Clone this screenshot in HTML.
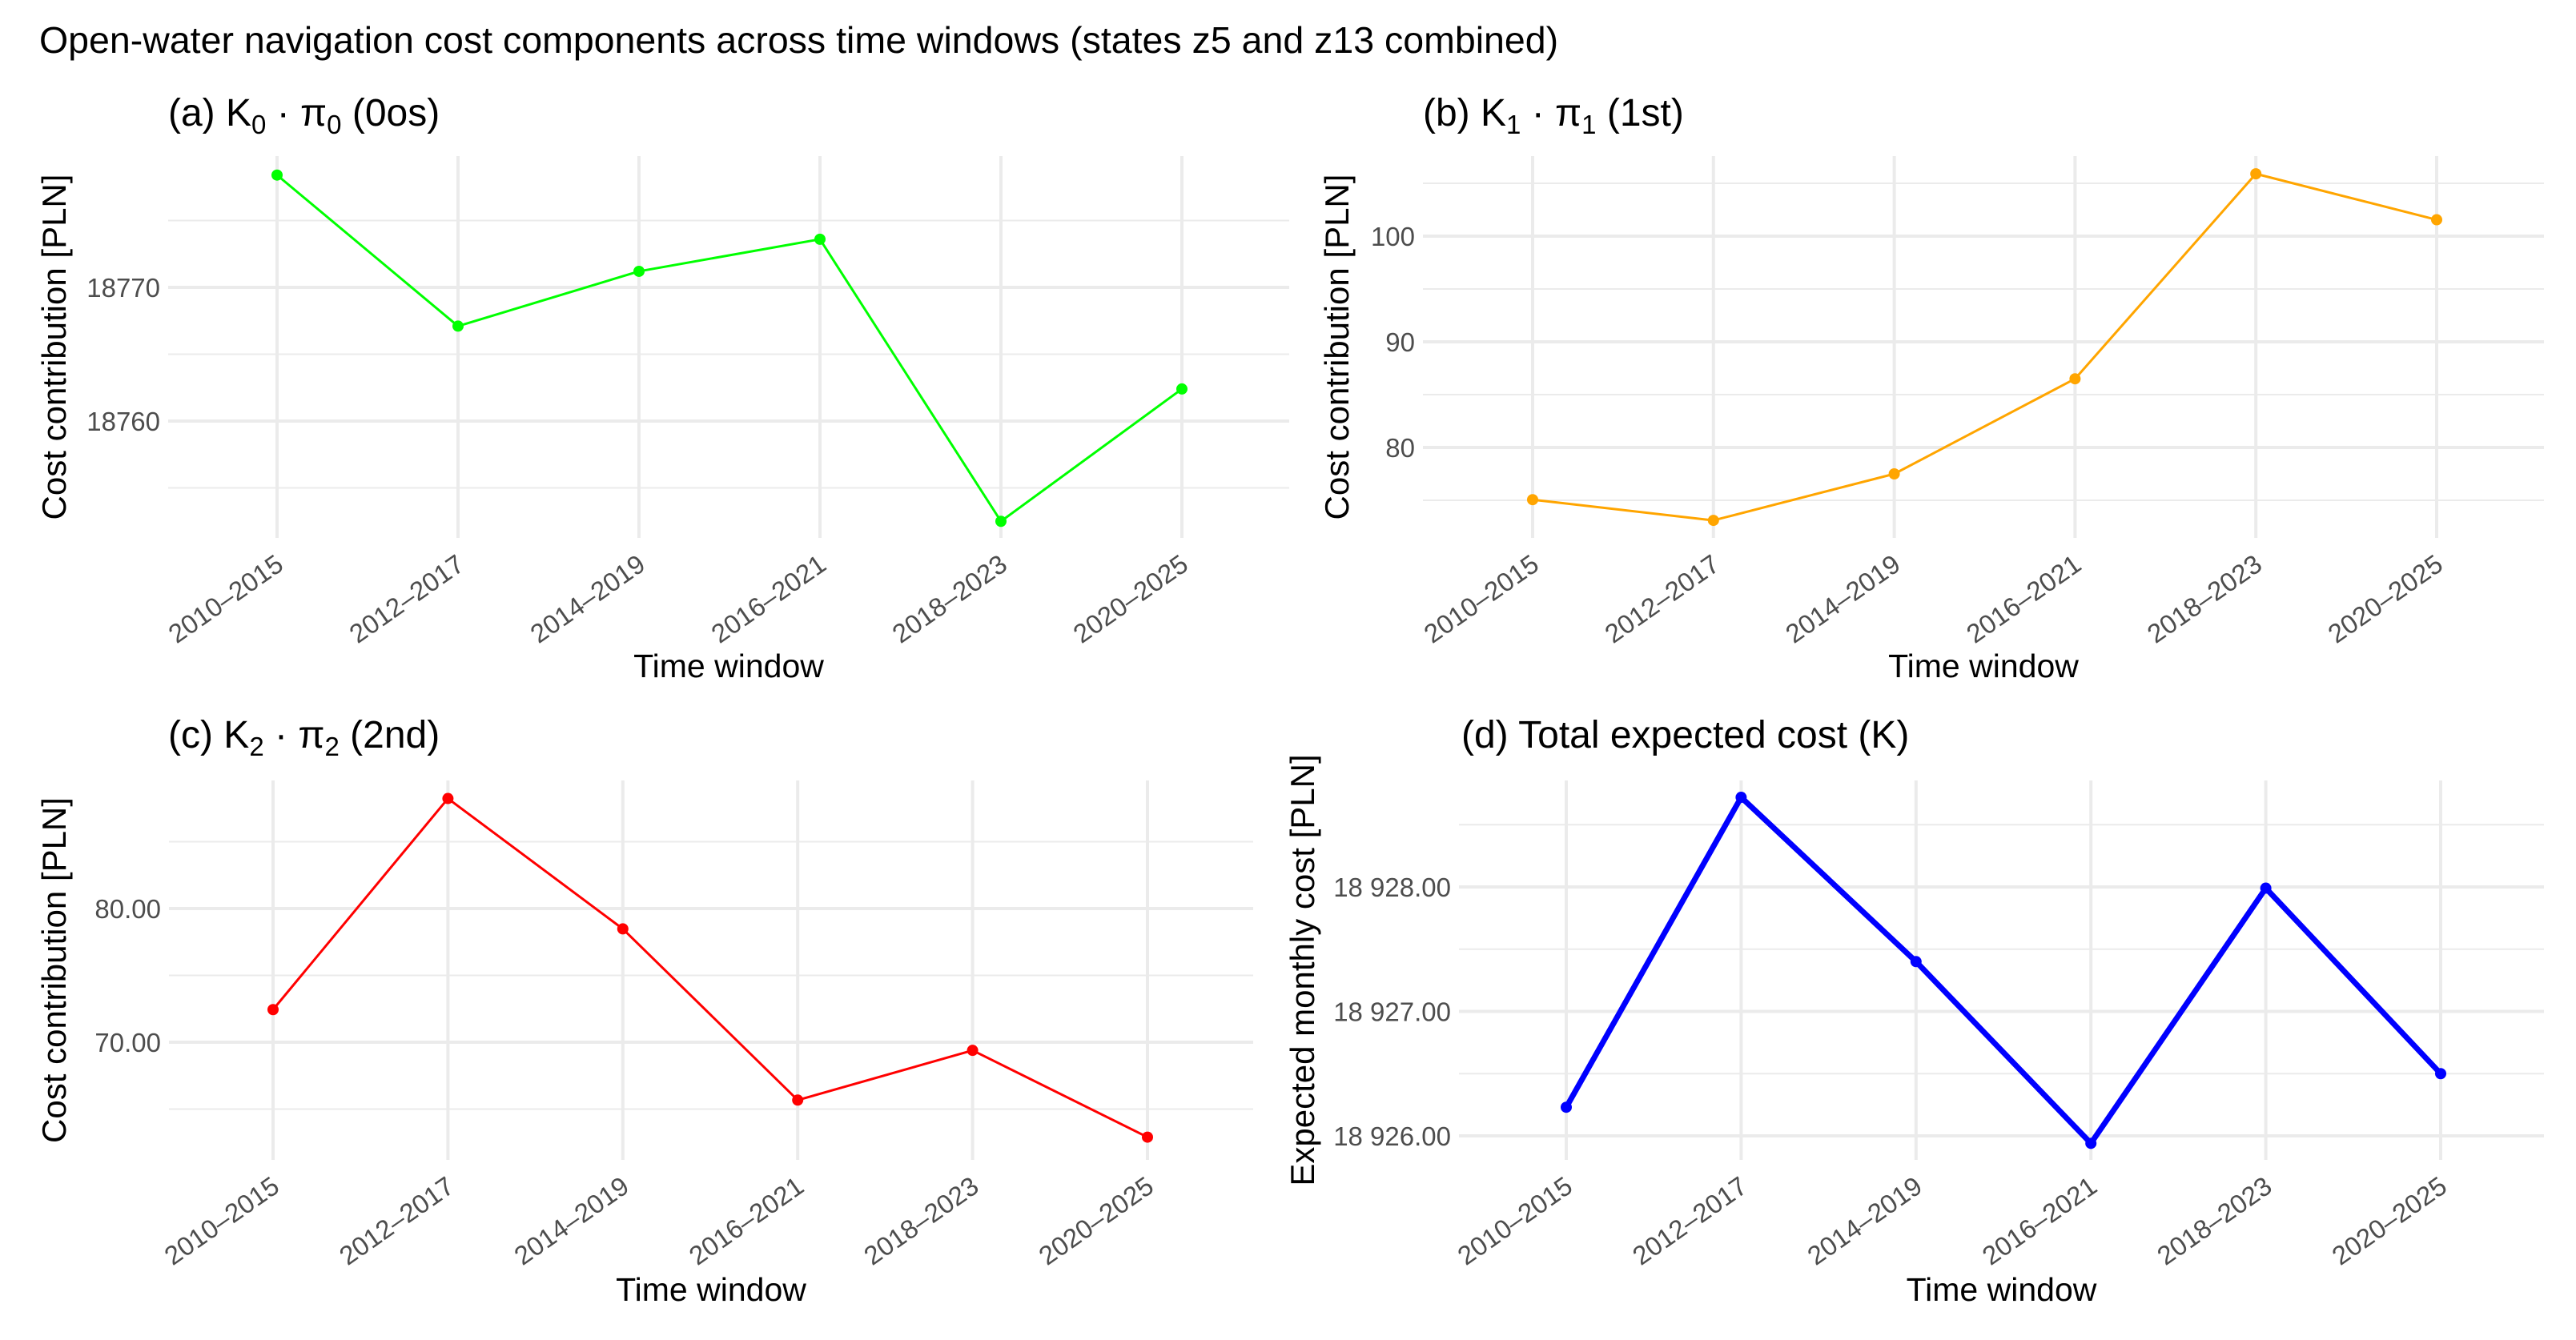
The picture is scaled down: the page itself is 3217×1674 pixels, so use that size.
<!DOCTYPE html>
<html><head><meta charset="utf-8"><style>
body{margin:0;background:#fff;}
svg{display:block;font-family:"Liberation Sans",sans-serif;}
</style></head><body>
<svg id="chart" width="3217" height="1674" viewBox="0 0 3217 1674" xmlns="http://www.w3.org/2000/svg">
<rect width="3217" height="1674" fill="#fff"/>
<text x="49" y="66" font-size="46.5" fill="#000">Open-water navigation cost components across time windows (states z5 and z13 combined)</text>
</svg>
<script>
const categories = ["2010–2015","2012–2017","2014–2019","2016–2021","2018–2023","2020–2025"];
const seriesA = [18778.4,18767.1,18771.2,18773.6,18752.5,18762.4];
const seriesB = [75.06,73.1,77.5,86.5,105.9,101.55];
const seriesC = [72.44,88.23,78.48,65.67,69.39,62.9];
const seriesD = [18926.23,18928.72,18927.40,18925.94,18927.99,18926.50];
const ticksA = [18760,18770];
const ticksB = [80,90,100];
const ticksC = [70,80];
const ticksD = [18926,18927,18928];
const tickLabelsA = ["18760","18770"];
const tickLabelsB = ["80","90","100"];
const tickLabelsC = ["70.00","80.00"];
const tickLabelsD = ["18 926.00","18 927.00","18 928.00"];

const NS="http://www.w3.org/2000/svg";
const svg=document.getElementById('chart');
function mk(tag,attrs,parent){const e=document.createElementNS(NS,tag);for(const k in attrs)e.setAttribute(k,attrs[k]);(parent||svg).appendChild(e);return e;}

function panel(cfg){
  const g=mk('g',{});
  
  
  const {l,r,t,b}=cfg;
  const y=v=>cfg.py0+(v-cfg.v0)*(cfg.py1-cfg.py0)/(cfg.v1-cfg.v0);
  const n=categories.length;
  const x=i=>cfg.x0+i*(cfg.x1-cfg.x0)/(n-1);
  const step=cfg.ticks[1]-cfg.ticks[0];
  for(let v=cfg.ticks[0]-step*1.5; v<=cfg.ticks[cfg.ticks.length-1]+step*1.5; v+=step){
    const yy=y(v); if(yy<t||yy>b)continue;
    const m=mk('line',{x1:l,x2:r,y1:yy,y2:yy,stroke:'#ebebeb','stroke-width':2},g);
    
    
  }
  cfg.ticks.forEach((v,i)=>{
    const yy=y(v);
    const gl=mk('line',{x1:l,x2:r,y1:yy,y2:yy,stroke:'#ebebeb','stroke-width':4},g);
    
    
    const tx=mk('text',{x:l-10,y:yy+12,'font-size':33,fill:'#4d4d4d','text-anchor':'end'},g);
    tx.textContent=cfg.labels[i];
    
    
  });
  categories.forEach((c,i)=>{
    const xx=x(i);
    const gl=mk('line',{x1:xx,x2:xx,y1:t,y2:b,stroke:'#ebebeb','stroke-width':4},g);
    
    
    const tx=mk('text',{x:xx+10,y:b+38,'font-size':33,fill:'#4d4d4d','text-anchor':'end',transform:`rotate(-35 ${xx+10} ${b+38})`},g);
    tx.textContent=c;
    
    
  });
  const pts=cfg.data.map((v,i)=>x(i)+','+y(v)).join(' ');
  const pl=mk('polyline',{points:pts,fill:'none',stroke:cfg.color,'stroke-width':cfg.lw,'stroke-linejoin':'round'},g);
  
  
  cfg.data.forEach((v,i)=>{
    const c=mk('circle',{cx:x(i),cy:y(v),r:cfg.pr,fill:cfg.color},g);
    
    
  });
  const tt=mk('text',{x:cfg.titleX,y:cfg.titleY,'font-size':48,fill:'#000'},g);
  tt.innerHTML=cfg.title;
  
  
  const yt=mk('text',{x:cfg.ytX,y:(t+b)/2,'font-size':42,fill:'#000','text-anchor':'middle',transform:`rotate(-90 ${cfg.ytX} ${(t+b)/2})`},g);
  yt.textContent=cfg.ytitle;
  
  
  const xt=mk('text',{x:(l+r)/2,y:cfg.xtY,'font-size':41,fill:'#000','text-anchor':'middle'},g);
  xt.textContent='Time window';
  
  
}
const sub=(s)=>`<tspan font-size="33" dy="10">${s}</tspan><tspan dy="-10"> </tspan>`;
panel({name:'panel-a',l:210,r:1610,t:195,b:672,x0:346,x1:1476,v0:18760,v1:18770,py0:526,py1:359,ticks:ticksA,labels:tickLabelsA,data:seriesA,color:'#00ff00',lw:3,pr:7,
  title:`(a)  K${sub('0')}· π${sub('0')}(0os)`,titleX:210,titleY:157,ytitle:'Cost contribution [PLN]',ytX:82,xtY:846});
panel({name:'panel-b',l:1777,r:3177,t:195,b:672,x0:1914,x1:3043,v0:80,v1:100,py0:559,py1:295,ticks:ticksB,labels:tickLabelsB,data:seriesB,color:'#ffa500',lw:3,pr:7,
  title:`(b)  K${sub('1')}· π${sub('1')}(1st)`,titleX:1777,titleY:157,ytitle:'Cost contribution [PLN]',ytX:1684,xtY:846});
panel({name:'panel-c',l:211,r:1565,t:975,b:1449,x0:341,x1:1433,v0:70,v1:80,py0:1302,py1:1135,ticks:ticksC,labels:tickLabelsC,data:seriesC,color:'#ff0000',lw:3,pr:7,
  title:`(c)  K${sub('2')}· π${sub('2')}(2nd)`,titleX:210,titleY:934,ytitle:'Cost contribution [PLN]',ytX:82,xtY:1625});
panel({name:'panel-d',l:1822,r:3177,t:975,b:1449,x0:1956,x1:3048,v0:18926,v1:18928,py0:1419,py1:1108,ticks:ticksD,labels:tickLabelsD,data:seriesD,color:'#0000ff',lw:7,pr:7,
  title:`(d) Total expected cost (K)`,titleX:1825,titleY:934,ytitle:'Expected monthly cost [PLN]',ytX:1641,xtY:1625});
</script>
</body></html>
